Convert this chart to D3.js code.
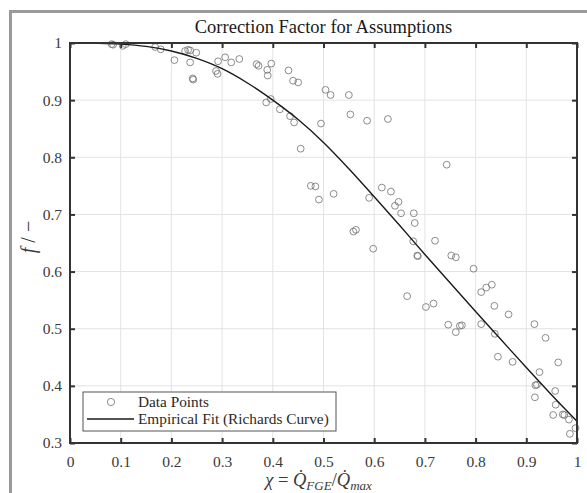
<!DOCTYPE html>
<html>
<head>
<meta charset="utf-8">
<script src="https://cdn.jsdelivr.net/npm/d3@7"></script>
<style>
  html, body { margin: 0; padding: 0; background: #fff; }
  svg { display: block; }
  text { font-family: "Liberation Serif", "DejaVu Serif", serif; }
</style>
</head>
<body>
<svg id="chart" width="587" height="493"></svg>
<script>
// ---- data ----
const pointX = [0.082,0.085,0.104,0.110,0.168,0.179,0.206,0.227,0.233,0.237,0.249,0.237,0.242,0.243,
  0.288,0.291,0.292,0.306,0.318,0.334,0.368,0.372,0.397,0.389,0.390,0.387,0.396,0.414,0.431,0.440,
  0.450,0.434,0.442,0.455,0.475,0.484,0.491,0.495,0.504,0.514,0.520,0.550,0.553,0.559,0.564,0.586,
  0.590,0.598,0.615,0.627,0.633,0.641,0.648,0.653,0.665,0.677,0.678,0.680,0.685,0.686,0.702,0.717,
  0.720,0.743,0.746,0.752,0.761,0.761,0.769,0.773,0.796,0.811,0.811,0.821,0.832,0.837,0.838,0.844,
  0.865,0.873,0.916,0.917,0.918,0.921,0.926,0.938,0.953,0.957,0.958,0.963,0.972,0.975,0.984,0.986,0.997];
const pointY = [0.998,0.997,0.995,0.998,0.993,0.989,0.970,0.986,0.988,0.987,0.983,0.966,0.938,0.936,
  0.951,0.946,0.968,0.975,0.966,0.972,0.963,0.960,0.964,0.953,0.943,0.896,0.902,0.884,0.952,0.934,
  0.931,0.872,0.861,0.815,0.750,0.749,0.726,0.859,0.918,0.909,0.736,0.909,0.875,0.670,0.673,0.864,
  0.729,0.640,0.747,0.867,0.740,0.715,0.722,0.702,0.557,0.653,0.702,0.685,0.628,0.627,0.538,0.544,
  0.654,0.787,0.507,0.628,0.625,0.494,0.505,0.506,0.605,0.564,0.508,0.572,0.577,0.540,0.491,0.451,
  0.525,0.442,0.508,0.380,0.401,0.402,0.424,0.484,0.349,0.391,0.367,0.441,0.350,0.349,0.341,0.316,0.326];

const fitX = [0,0.05,0.1,0.15,0.2,0.25,0.3,0.35,0.4,0.45,0.5,0.55,0.6,0.65,0.7,0.75,0.8,0.85,0.9,0.95,1];
const fitY = [1.0,0.9995,0.998,0.994,0.986,0.973,0.955,0.930,0.900,0.866,0.826,0.780,0.731,0.681,0.630,0.580,0.530,0.481,0.432,0.384,0.338];

const xTicks = [0,0.1,0.2,0.3,0.4,0.5,0.6,0.7,0.8,0.9,1];
const yTicks = [0.3,0.4,0.5,0.6,0.7,0.8,0.9,1];
const titleText = "Correction Factor for Assumptions";
const legendLabels = ["Data Points", "Empirical Fit (Richards Curve)"];

// ---- layout ----
const svg = d3.select("#chart");
const L = 70, R = 577, T = 43, B = 443;
const x = d3.scaleLinear().domain([0, 1]).range([L, R]);
const y = d3.scaleLinear().domain([0.3, 1]).range([B, T]);
const serif = '"Liberation Serif", "DejaVu Serif", serif';

// outer gray frame
svg.append("rect").attr("x", 10.5).attr("y", 11.5).attr("width", 620).attr("height", 520)
  .attr("fill", "#fff").attr("stroke", "#9a9a9a").attr("stroke-width", 3);

// grid
const g = svg.append("g");
g.selectAll(".gx").data(xTicks).enter().append("line")
  .attr("x1", d => x(d)).attr("x2", d => x(d)).attr("y1", T).attr("y2", B)
  .attr("stroke", "#e3e3e3").attr("stroke-width", 1);
g.selectAll(".gy").data(yTicks).enter().append("line")
  .attr("x1", L).attr("x2", R).attr("y1", d => y(d)).attr("y2", d => y(d))
  .attr("stroke", "#e3e3e3").attr("stroke-width", 1);

// fit curve
const line = d3.line().x((d, i) => x(fitX[i])).y((d, i) => y(fitY[i])).curve(d3.curveMonotoneX);

// points
svg.append("g").selectAll("circle").data(pointX).enter().append("circle")
  .attr("cx", (d) => x(d)).attr("cy", (d, i) => y(pointY[i])).attr("r", 3.4)
  .attr("fill", "none").attr("stroke", "#6e6e6e").attr("stroke-width", 0.8);

svg.append("path").datum(fitX).attr("d", line)
  .attr("fill", "none").attr("stroke", "#1a1a1a").attr("stroke-width", 1.4);

// axes (ticks inside, box)
const tickLen = 5;
const axisColor = "#333";
const xb = d3.axisBottom(x).tickValues(xTicks).tickSizeInner(-tickLen).tickSizeOuter(0).tickPadding(13)
  .tickFormat(d => d3.format("~g")(d));
const yl = d3.axisLeft(y).tickValues(yTicks).tickSizeInner(-tickLen).tickSizeOuter(0).tickPadding(8)
  .tickFormat(d => d3.format("~g")(d));
const gxAxis = svg.append("g").attr("transform", `translate(0,${B})`).call(xb);
const gyAxis = svg.append("g").attr("transform", `translate(${L},0)`).call(yl);
const gxTop = svg.append("g").attr("transform", `translate(0,${T})`)
  .call(d3.axisTop(x).tickValues(xTicks).tickSizeInner(-tickLen).tickSizeOuter(0).tickFormat(""));
const gyRight = svg.append("g").attr("transform", `translate(${R},0)`)
  .call(d3.axisRight(y).tickValues(yTicks).tickSizeInner(-tickLen).tickSizeOuter(0).tickFormat(""));
[gxAxis, gyAxis, gxTop, gyRight].forEach(a => {
  a.attr("font-family", serif);
  a.select(".domain").remove();
  a.selectAll(".tick line").attr("stroke", axisColor).attr("stroke-width", 2);
  a.selectAll(".tick text").attr("fill", "#3a3a3a").style("font-family", serif).style("font-size", "15.5px");
});
svg.append("rect").attr("x", L).attr("y", T).attr("width", R - L).attr("height", B - T)
  .attr("fill", "none").attr("stroke", axisColor).attr("stroke-width", 2);

// title
svg.append("text").attr("x", (L + R) / 2).attr("y", 33).attr("text-anchor", "middle")
  .attr("fill", "#1a1a1a").style("font-family", serif).style("font-size", "18.5px").text(titleText);

// y label
const ylab = svg.append("text").attr("transform", `translate(35,${(T + B) / 2 - 6}) rotate(-90)`)
  .attr("text-anchor", "middle").attr("fill", "#3a3a3a").style("font-family", serif).style("font-size", "20px");
ylab.append("tspan").style("font-style", "italic").text("f");
ylab.append("tspan").text(" / \u2212");

// x label
const xlab = svg.append("text").attr("x", (L + R) / 2 - 5).attr("y", 486).attr("text-anchor", "middle")
  .attr("fill", "#3a3a3a").style("font-family", serif).style("font-size", "18.5px");
xlab.append("tspan").style("font-style", "italic").text("\u03C7");
xlab.append("tspan").text(" = ");
xlab.append("tspan").style("font-style", "italic").text("Q\u0307");
xlab.append("tspan").style("font-style", "italic").style("font-size", "13px").attr("dy", 4).text("FGE");
xlab.append("tspan").attr("dy", -4).text("/");
xlab.append("tspan").style("font-style", "italic").text("Q\u0307");
xlab.append("tspan").style("font-style", "italic").style("font-size", "13px").attr("dy", 4).text("max");

// legend
const lg = svg.append("g");
lg.append("rect").attr("x", 83).attr("y", 392).attr("width", 253).attr("height", 39)
  .attr("fill", "#fff").attr("stroke", "#555").attr("stroke-width", 1);
lg.append("circle").attr("cx", 111).attr("cy", 402).attr("r", 3.6)
  .attr("fill", "none").attr("stroke", "#6e6e6e").attr("stroke-width", 0.8);
lg.append("line").attr("x1", 87).attr("x2", 134).attr("y1", 419).attr("y2", 419)
  .attr("stroke", "#1a1a1a").attr("stroke-width", 1.4);
lg.selectAll("text").data(legendLabels).enter().append("text")
  .attr("x", 138).attr("y", (d, i) => 406.5 + i * 17).attr("fill", "#2a2a2a")
  .style("font-family", serif).style("font-size", "15.3px").text(d => d);
</script>
</body>
</html>
